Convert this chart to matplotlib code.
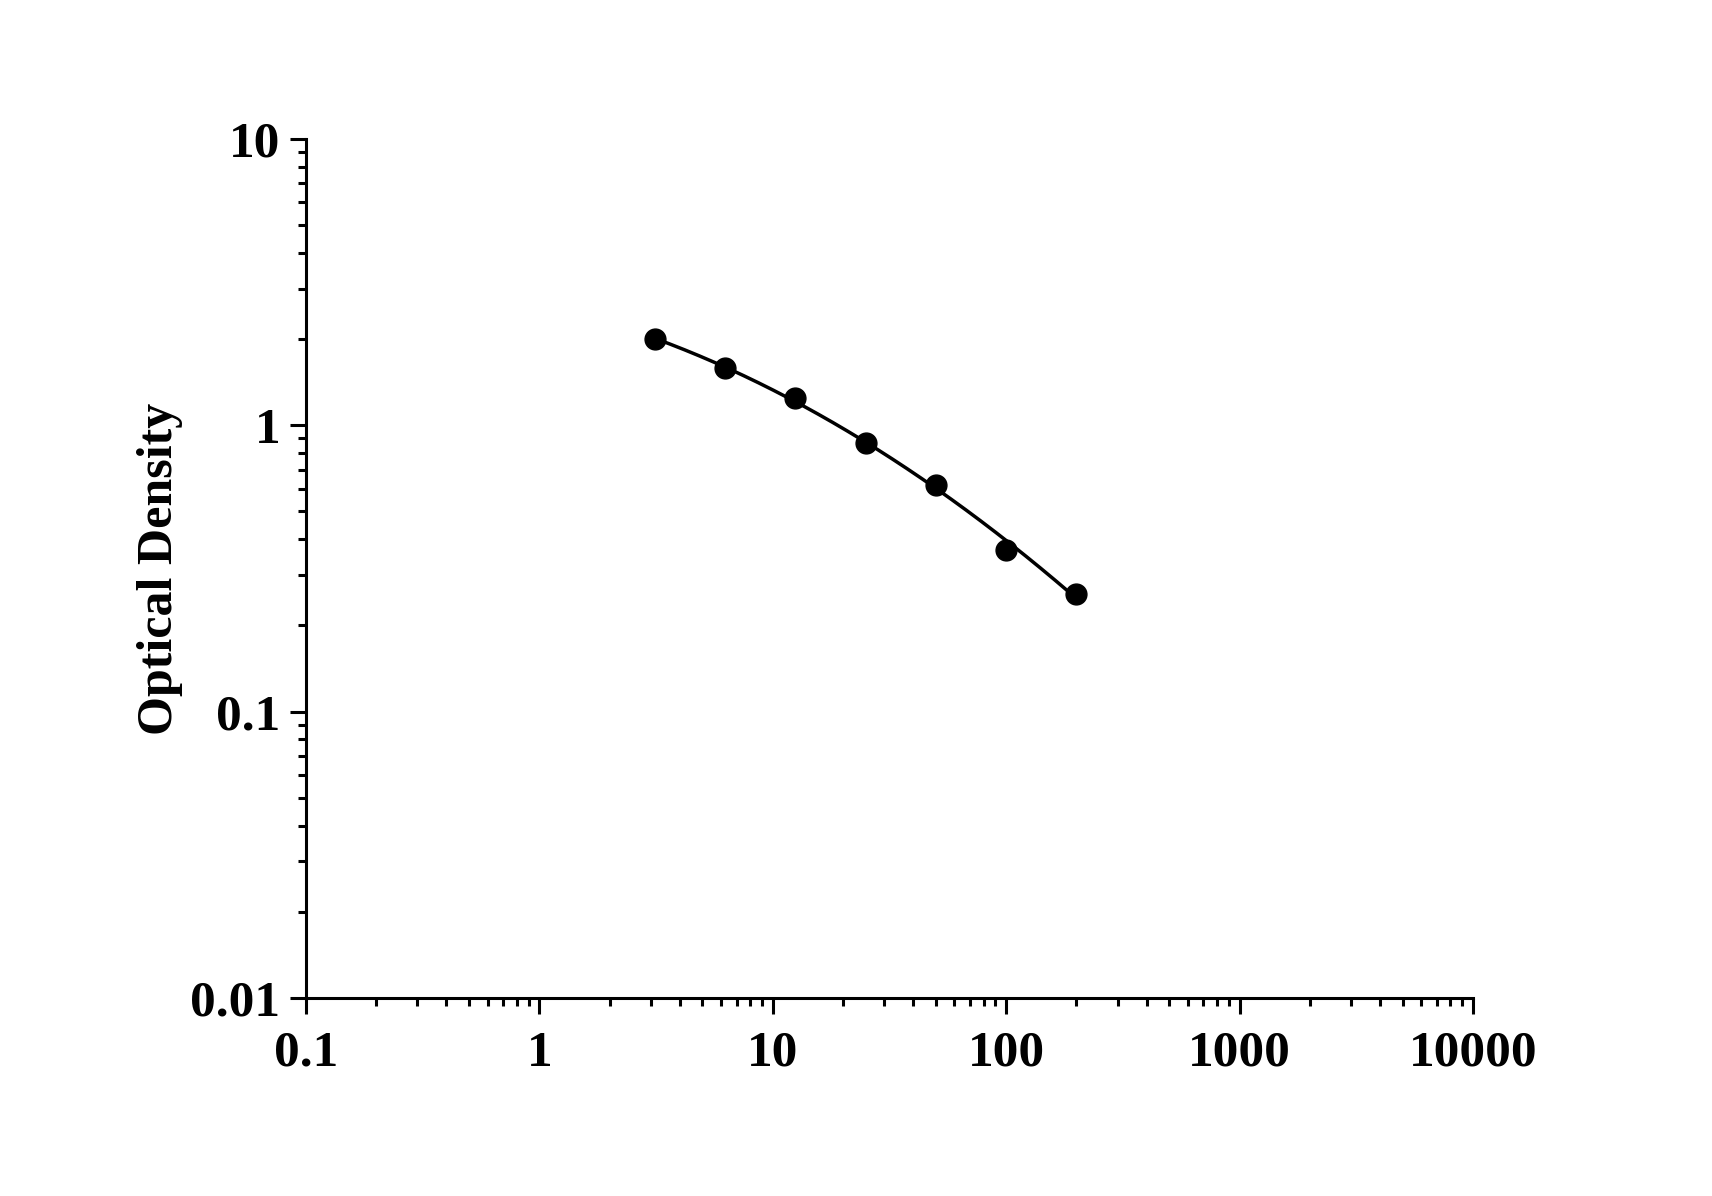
import matplotlib
matplotlib.use('Agg')
import matplotlib.pyplot as plt
import numpy as np
from matplotlib.ticker import LogLocator, FixedLocator, FixedFormatter, NullFormatter

# data
concentration = [3.125, 6.25, 12.5, 25, 50, 100, 200]
od = [2.00, 1.58, 1.245, 0.87, 0.62, 0.367, 0.258]
x_ticks = [0.1, 1, 10, 100, 1000, 10000]
x_tick_labels = ['0.1', '1', '10', '100', '1000', '10000']
y_ticks = [0.01, 0.1, 1, 10]
y_tick_labels = ['0.01', '0.1', '1', '10']

plt.rcParams['font.family'] = ['Liberation Serif', 'DejaVu Serif']
plt.rcParams['font.weight'] = 'bold'

fig = plt.figure(figsize=(17.12, 11.96), dpi=100)
ax = fig.add_axes([0.1787, 0.1656, 0.8604 - 0.1787, 0.8838 - 0.1656])

# fitted curve in log-log space through the standard points
lx = np.log10(concentration)
ly = np.log10(od)
coef = np.polyfit(lx, ly, 2)
xs = np.linspace(lx[0], lx[-1], 200)
ax.plot(10 ** xs, 10 ** np.polyval(coef, xs), color='black', lw=2.5, zorder=2)
ax.plot(concentration, od, 'o', color='black', markersize=15, zorder=3)

ax.set_xscale('log')
ax.set_yscale('log')
ax.set_xlim(0.1, 10000)
ax.set_ylim(0.01, 10)

ax.xaxis.set_major_locator(FixedLocator(x_ticks))
ax.xaxis.set_major_formatter(FixedFormatter(x_tick_labels))
ax.yaxis.set_major_locator(FixedLocator(y_ticks))
ax.yaxis.set_major_formatter(FixedFormatter(y_tick_labels))
ax.xaxis.set_minor_locator(LogLocator(base=10, subs=np.arange(2, 10), numticks=20))
ax.yaxis.set_minor_locator(LogLocator(base=10, subs=np.arange(2, 10), numticks=20))
ax.xaxis.set_minor_formatter(NullFormatter())
ax.yaxis.set_minor_formatter(NullFormatter())

for side in ['top', 'right']:
    ax.spines[side].set_visible(False)
for side in ['left', 'bottom']:
    ax.spines[side].set_linewidth(2.2)

ax.tick_params(which='major', direction='out', length=11.5, width=2.2, labelsize=37)
ax.tick_params(axis='x', which='major', pad=12)
ax.tick_params(axis='y', which='major', pad=7)
ax.tick_params(which='minor', direction='out', length=5.8, width=2.2)
for lab in ax.get_xticklabels() + ax.get_yticklabels():
    lab.set_fontweight('bold')

ax.set_ylabel('Optical Density', fontsize=36, fontweight='bold', labelpad=5)

fig.savefig('out.png', dpi=100)
